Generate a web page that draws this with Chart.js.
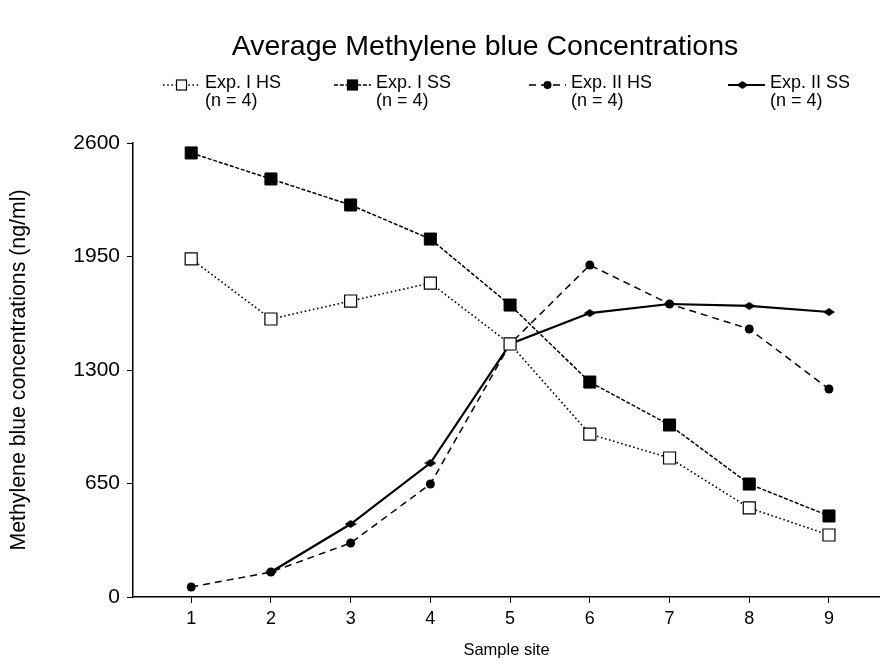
<!DOCTYPE html>
<html><head><meta charset="utf-8">
<script src="https://cdn.jsdelivr.net/npm/chart.js@4"></script>
<style>html,body{margin:0;padding:0;background:#fff}#wrap{width:880px;height:664px}</style>
</head><body><div id="wrap"><canvas id="c" width="880" height="664"></canvas></div>
<script>
const chartTitle = 'Average Methylene blue Concentrations';
const xTitle = 'Sample site';
const yTitle = 'Methylene blue concentrations (ng/ml)';
const sites = [1, 2, 3, 4, 5, 6, 7, 8, 9];
const yTicks = [0, 650, 1300, 1950, 2600];
const seriesNames = ['Exp. I HS', 'Exp. I SS', 'Exp. II HS', 'Exp. II SS'];
const seriesSub = '(n = 4)';
const expIHS  = [1936, 1592, 1695, 1798, 1449, 933, 796, 510, 355];
const expISS  = [2543, 2394, 2245, 2050, 1672, 1231, 985, 647, 464];
const expIIHS = [57, 143, 309, 647, 1449, 1901, 1678, 1535, 1191];
const expIISS = [null, 143, 418, 767, 1449, 1626, 1678, 1667, 1632];

const FONT = "'Liberation Sans', Arial, Helvetica, sans-serif";

// flattened diamond marker
function makeDiamond(w, h) {
  const c = document.createElement('canvas');
  c.width = w; c.height = h;
  const g = c.getContext('2d');
  g.fillStyle = '#000';
  g.beginPath();
  g.moveTo(0, h / 2); g.lineTo(w / 2, 0); g.lineTo(w, h / 2); g.lineTo(w / 2, h); g.closePath();
  g.fill();
  return c;
}
const diamond = makeDiamond(12, 8);

function pts(arr) { return sites.map((s, i) => ({x: s, y: arr[i]})); }

const datasets = [
  {label: seriesNames[0], data: pts(expIHS), borderColor: '#000', borderWidth: 1.6, borderDash: [1.6, 2.6],
   pointStyle: 'rect', pointRadius: 8.5, pointBackgroundColor: '#fff', pointBorderColor: '#000', pointBorderWidth: 1.2},
  {label: seriesNames[1], data: pts(expISS), borderColor: '#000', borderWidth: 1.5, borderDash: [4, 1.8],
   pointStyle: 'rect', pointRadius: 8.5, pointBackgroundColor: '#000', pointBorderColor: '#000', pointBorderWidth: 1},
  {label: seriesNames[2], data: pts(expIIHS), borderColor: '#000', borderWidth: 1.5, borderDash: [7, 5],
   pointStyle: 'circle', pointRadius: 4.5, pointBackgroundColor: '#000', pointBorderColor: '#000', pointBorderWidth: 0},
  {label: seriesNames[3], data: pts(expIISS), borderColor: '#000', borderWidth: 2.2, borderDash: [],
   pointStyle: diamond, pointRadius: 5, pointBackgroundColor: '#000', pointBorderColor: '#000'}
];

const legendX = [163, 334, 529, 728];
const legendLineLen = 37;

const decor = {
  id: 'decor',
  beforeDraw(chart) {
    const ctx = chart.ctx;
    ctx.save();
    ctx.fillStyle = '#fff';
    ctx.fillRect(0, 0, chart.width, chart.height);
    ctx.restore();
  },
  afterDraw(chart) {
    const ctx = chart.ctx;
    ctx.save();
    ctx.fillStyle = '#000';
    ctx.textBaseline = 'middle';
    ctx.textAlign = 'center';
    ctx.font = '28.5px ' + FONT;
    ctx.fillText(chartTitle, 485, 47);
    ctx.font = '18px ' + FONT;
    ctx.textAlign = 'left';
    chart.data.datasets.forEach((ds, i) => {
      const x0 = legendX[i], y = 85;
      ctx.save();
      ctx.strokeStyle = '#000';
      ctx.lineWidth = ds.borderWidth;
      ctx.setLineDash(ds.borderDash || []);
      ctx.beginPath(); ctx.moveTo(x0, y); ctx.lineTo(x0 + legendLineLen, y); ctx.stroke();
      ctx.setLineDash([]);
      const cx = x0 + legendLineLen / 2;
      if (ds.pointStyle === 'rect') {
        const s = 10;
        ctx.fillStyle = ds.pointBackgroundColor;
        ctx.fillRect(cx - s / 2, y - s / 2, s, s);
        ctx.lineWidth = 1.2;
        ctx.strokeRect(cx - s / 2, y - s / 2, s, s);
      } else if (ds.pointStyle === 'circle') {
        ctx.fillStyle = '#000';
        ctx.beginPath(); ctx.arc(cx, y, 4, 0, Math.PI * 2); ctx.fill();
      } else {
        ctx.drawImage(ds.pointStyle, cx - 4 - ds.pointStyle.width / 2, y - ds.pointStyle.height / 2);
      }
      ctx.restore();
      ctx.fillStyle = '#000';
      ctx.fillText(ds.label, x0 + legendLineLen + 5, 83);
      ctx.fillText(seriesSub, x0 + legendLineLen + 5, 101);
    });
    ctx.restore();
  }
};

new Chart(document.getElementById('c'), {
  type: 'line',
  data: {datasets},
  plugins: [decor],
  options: {
    responsive: false,
    animation: false,
    devicePixelRatio: 1,
    spanGaps: false,
    layout: {autoPadding: false, padding: {top: 143, right: 0, left: 0, bottom: 0}},
    plugins: {legend: {display: false}, title: {display: false}, tooltip: {enabled: false}},
    elements: {line: {tension: 0, fill: false}},
    scales: {
      x: {
        type: 'linear', min: 0.27, max: 9.64,
        afterBuildTicks: (s) => { s.ticks = sites.map(v => ({value: v})); },
        afterFit: (s) => { s.height = 67; s.paddingLeft = 0; s.paddingRight = 0; },
        ticks: {color: '#000', font: {family: FONT, size: 18}, padding: 5, maxRotation: 0, autoSkip: false,
                callback: (v) => String(v)},
        grid: {display: true, drawOnChartArea: false, drawTicks: true, tickLength: 6, color: '#000', lineWidth: 1},
        border: {display: true, color: '#000', width: 1.5},
        title: {display: true, text: xTitle, color: '#000', font: {family: FONT, size: 16.5}, padding: {top: 0, bottom: 4}}
      },
      y: {
        type: 'linear', min: 0, max: 2600,
        afterBuildTicks: (s) => { s.ticks = yTicks.map(v => ({value: v})); },
        afterFit: (s) => { s.width = 133; },
        ticks: {color: '#000', font: {family: FONT, size: 21}, padding: 7, callback: (v) => String(v)},
        grid: {display: true, drawOnChartArea: false, drawTicks: true, tickLength: 6, color: '#000', lineWidth: 1},
        border: {display: true, color: '#000', width: 1.5},
        title: {display: true, text: yTitle, color: '#000', font: {family: FONT, size: 21.3}, padding: {top: 6, bottom: 0}}
      }
    }
  }
});
</script>
</body></html>
